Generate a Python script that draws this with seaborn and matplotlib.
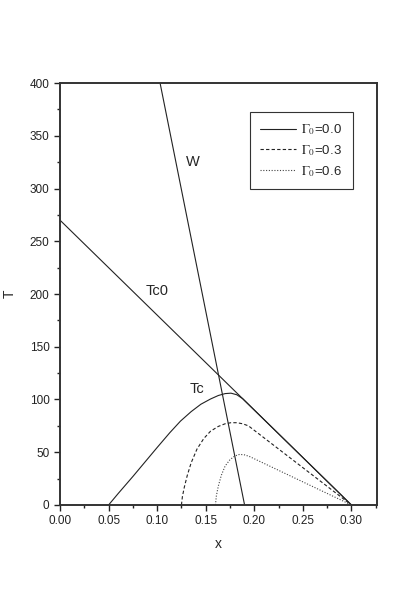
import pandas as pd
import matplotlib
matplotlib.use('Agg')
import matplotlib.pyplot as plt
import seaborn as sns

# data
tc0_x = [0.0, 0.30]
tc0_T = [270, 0]

w_x = [0.103, 0.190]
w_T = [400, 0]

g00_x = [0.050, 0.060, 0.075, 0.090, 0.100, 0.113, 0.124, 0.135, 0.145, 0.155, 0.163, 0.170, 0.176, 0.182, 0.188, 0.300]
g00_T = [0, 11, 27, 43.5, 54.5, 68.5, 79.5, 88.5, 95.5, 100.5, 103.8, 105.6, 106, 104.5, 100.8, 0]

g03_x = [0.125, 0.126, 0.128, 0.131, 0.135, 0.141, 0.148, 0.155, 0.163, 0.170, 0.176, 0.182, 0.188, 0.194, 0.300]
g03_T = [0, 8, 17, 28, 40, 53, 63, 70, 74.5, 77, 78, 78, 77, 75, 0]

g06_x = [0.160, 0.161, 0.163, 0.166, 0.170, 0.175, 0.180, 0.185, 0.190, 0.195, 0.300]
g06_T = [0, 9, 18, 28, 37, 43, 46.5, 48, 47.5, 46, 0]

sns.set_style('ticks')
plt.rcParams['font.family'] = ['Liberation Sans', 'DejaVu Sans']
plt.rcParams['mathtext.fontset'] = 'stix'

fig = plt.figure(figsize=(4.15, 5.96), dpi=100)
ax = fig.add_axes([0.1446, 0.1527, 0.7631, 0.708])

lc = '#222222'
sns.lineplot(x=tc0_x, y=tc0_T, ax=ax, color=lc, lw=0.8, sort=False, estimator=None)
sns.lineplot(x=w_x, y=w_T, ax=ax, color=lc, lw=0.8, sort=False, estimator=None)
sns.lineplot(x=g00_x, y=g00_T, ax=ax, color=lc, lw=0.8, sort=False, estimator=None,
             label=r'$\Gamma_0$=0.0')
sns.lineplot(x=g03_x, y=g03_T, ax=ax, color=lc, lw=0.8, sort=False, estimator=None,
             linestyle=(0, (3, 2)), label=r'$\Gamma_0$=0.3')
sns.lineplot(x=g06_x, y=g06_T, ax=ax, color='#444444', lw=0.8, sort=False, estimator=None,
             linestyle=(0, (1, 1.5)), label=r'$\Gamma_0$=0.6')

ax.text(0.137, 325, 'W', fontsize=10.5, ha='center', va='center')
ax.text(0.0995, 203, 'Tc0', fontsize=10.5, ha='center', va='center')
ax.text(0.1406, 110, 'Tc', fontsize=10.5, ha='center', va='center')

ax.set_xlim(0, 0.326)
ax.set_ylim(0, 400)
ax.set_xticks([0.0, 0.05, 0.10, 0.15, 0.20, 0.25, 0.30])
ax.set_xticklabels(['0.00', '0.05', '0.10', '0.15', '0.20', '0.25', '0.30'])
ax.set_xticks([0.025, 0.075, 0.125, 0.175, 0.225, 0.275, 0.325], minor=True)
ax.set_yticks([0, 50, 100, 150, 200, 250, 300, 350, 400])
ax.set_yticks([25, 75, 125, 175, 225, 275, 325, 375], minor=True)
ax.tick_params(which='major', direction='out', length=4, width=1, labelsize=8.5, colors='#222222')
ax.tick_params(which='minor', direction='out', length=2.5, width=1, colors='#222222')
ax.tick_params(top=False, right=False, which='both')

for s in ax.spines.values():
    s.set_visible(True)
    s.set_linewidth(1.4)
    s.set_color('#333333')

ax.set_xlabel('x', fontsize=10, labelpad=7)
ax.set_ylabel('T', fontsize=10, labelpad=9)

leg = ax.legend(loc='upper right', bbox_to_anchor=(0.924, 0.932), borderaxespad=0,
                fancybox=False, edgecolor='#333333', framealpha=1, fontsize=9.5,
                handlelength=2.7, handletextpad=0.4, borderpad=0.8, labelspacing=0.45)
leg.get_frame().set_linewidth(0.8)

fig.savefig('out.png', dpi=100)
